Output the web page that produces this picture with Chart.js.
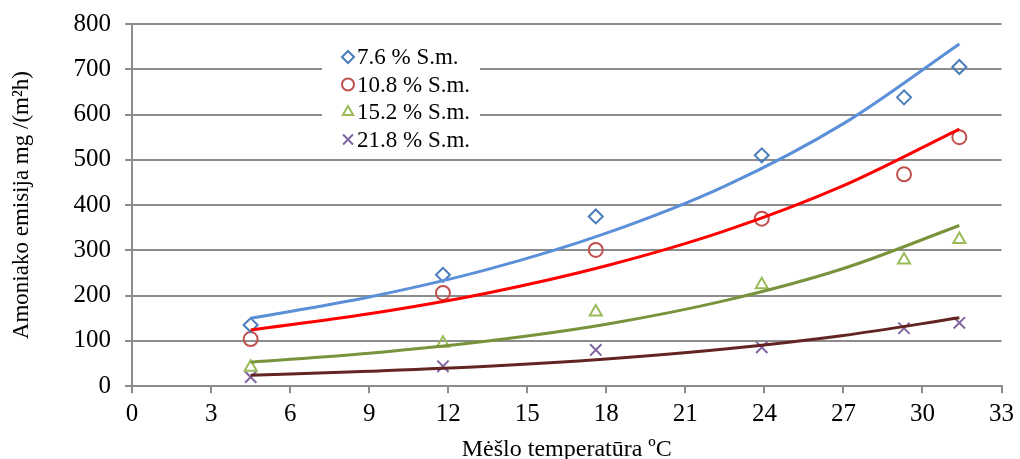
<!DOCTYPE html>
<html>
<head>
<meta charset="utf-8">
<script src="https://cdn.jsdelivr.net/npm/chart.js@4"></script>
<style>
  html, body { margin: 0; padding: 0; background: #fff; }
  #wrap { width: 1020px; height: 459px; }
</style>
</head>
<body>
<div id="wrap"><canvas id="chart"></canvas></div>
<script>
// temperatura (x) un merijumi
const temps = [4.5, 11.8, 17.6, 23.9, 29.3, 31.4];
const sm76 = [135, 246, 375, 510, 638, 705];
const sm108 = [104, 206, 301, 370, 468, 550];
const sm152 = [42, 95, 164, 224, 279, 324];
const sm218 = [20, 44, 80, 86, 128, 140];

// trendu liknes, nolasitas no attela
const trendX = [4.5, 9, 13.5, 18, 22.5, 27, 31.4];
const trend76 = [150, 197, 258, 338, 442, 580, 756];
const trend108 = [124, 160, 206, 266, 343, 443, 568];
const trend152 = [53, 73, 100, 137, 189, 260, 355];
const trend218 = [24, 33, 44, 60, 82, 112, 151];

const labels = ['7.6 % S.m.', '10.8 % S.m.', '15.2 % S.m.', '21.8 % S.m.'];
const xTicks = [0, 3, 6, 9, 12, 15, 18, 21, 24, 27, 30, 33];

function pts(xs, ys) {
  return xs.map((x, i) => ({ x: x, y: ys[i] }));
}

const marks = [
  { data: sm76, style: 'rectRot', color: '#4a7ebb', r: 7 },
  { data: sm108, style: 'circle', color: '#c0504d', r: 7 },
  { data: sm152, style: 'triangle', color: '#9bbb59', r: 7 },
  { data: sm218, style: 'crossRot', color: '#8064a2', r: 8 }
];
const trends = [
  { data: trend76, color: '#5b8fd8' },
  { data: trend108, color: '#ff0000' },
  { data: trend152, color: '#77933c' },
  { data: trend218, color: '#632523' }
];

let datasets = [];
marks.forEach((m, i) => {
  datasets.push({
    label: labels[i],
    data: pts(temps, m.data),
    showLine: false,
    pointStyle: m.style,
    pointRadius: m.r,
    pointBorderWidth: 2,
    pointBorderColor: m.color,
    pointBackgroundColor: 'rgba(0,0,0,0)',
    borderColor: m.color,
    order: 2
  });
});
trends.forEach((t) => {
  datasets.push({
    label: '',
    data: pts(trendX, t.data),
    showLine: true,
    borderColor: t.color,
    borderWidth: 3,
    pointRadius: 0,
    cubicInterpolationMode: 'monotone',
    order: 1
  });
});

// legenda grafika iekspuse
const insideLegend = {
  id: 'insideLegend',
  afterDraw(chart) {
    const ctx = chart.ctx;
    ctx.save();
    ctx.fillStyle = '#fff';
    ctx.fillRect(322, 40, 158, 112);
    ctx.font = '23px "Liberation Serif"';
    ctx.textBaseline = 'middle';
    marks.forEach((m, i) => {
      const y = 57 + i * 27.5;
      ctx.strokeStyle = m.color;
      ctx.fillStyle = 'rgba(0,0,0,0)';
      ctx.lineWidth = 2;
      Chart.helpers.drawPoint(ctx, { pointStyle: m.style, radius: m.r - 1, rotation: 0, borderWidth: 2 }, 348, y);
      ctx.fillStyle = '#000';
      ctx.fillText(labels[i], 357, y + 1);
    });
    ctx.restore();
  }
};

const tickFont = { family: 'Liberation Serif', size: 25 };

new Chart(document.getElementById('chart'), {
  type: 'scatter',
  data: { datasets: datasets },
  options: {
    responsive: true,
    maintainAspectRatio: false,
    animation: false,
    layout: { padding: { top: 0, right: 8, left: 8, bottom: -5 } },
    plugins: {
      legend: { display: false },
      tooltip: { enabled: false }
    },
    scales: {
      x: {
        type: 'linear',
        min: 0,
        max: 33,
        afterBuildTicks: (axis) => { axis.ticks = xTicks.map(v => ({ value: v })); },
        grid: {
          display: true,
          drawOnChartArea: false,
          drawTicks: true,
          tickLength: 7,
          color: '#8c8c8c',
          lineWidth: 2
        },
        border: { color: '#8c8c8c', width: 2 },
        ticks: {
          color: '#000',
          font: tickFont,
          padding: 6
        },
        title: {
          display: true,
          text: 'Mėšlo temperatūra ºC',
          color: '#000',
          font: { family: 'Liberation Serif', size: 24 },
          padding: { top: 0, bottom: 0 }
        }
      },
      y: {
        min: 0,
        max: 800,
        ticks: {
          stepSize: 100,
          color: '#000',
          font: { family: 'Liberation Serif', size: 25, lineHeight: 0.8 },
          padding: 14
        },
        grid: {
          color: '#8c8c8c',
          lineWidth: 2,
          tickLength: 7,
          drawTicks: true
        },
        border: { color: '#8c8c8c', width: 2 },
        title: {
          display: true,
          text: 'Amoniako emisija mg /(m²h)',
          color: '#000',
          font: { family: 'Liberation Serif', size: 23 },
          padding: { top: 0, bottom: 24 }
        }
      }
    }
  },
  plugins: [insideLegend]
});
</script>
</body>
</html>
